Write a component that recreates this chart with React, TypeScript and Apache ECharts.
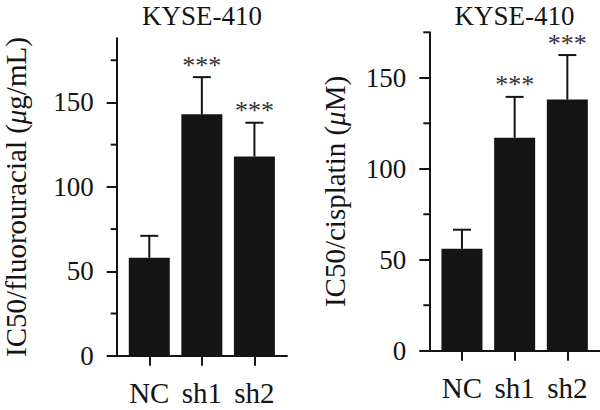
import React, { useEffect, useRef } from "react";
import * as echarts from "echarts";

const FONT = "'Liberation Serif', 'Times New Roman', serif";
const INK = "#141414";

const categories = ["NC", "sh1", "sh2"];
const significance = ["", "***", "***"];

// IC50 for fluorouracil (µg/mL): mean and SD
const fluMeans = [58, 143, 118];
const fluErrors = [13, 22, 20];

// IC50 for cisplatin (µM): mean and SD
const cisMeans = [56, 117, 138];
const cisErrors = [10.5, 22.5, 24.5];

const majorTicks = [0, 50, 100, 150];
const minorTicks = [25, 75, 125, 175];
const catTicks = [0, 1, 2];
const xMin = -0.62;
const xMax = 2.62;

const panelGrids = [
  { left: 116.7, top: 38.3, width: 170.3, height: 317.4 },
  { left: 429.3, top: 32.3, width: 170.7, height: 318.4 },
];
const yMax = [188, 175];

function xAxisFor(gridIndex: number) {
  return {
    type: "value",
    gridIndex,
    min: xMin,
    max: xMax,
    splitLine: { show: false },
    axisLine: { show: true, onZero: false, lineStyle: { color: INK, width: 2 } },
    axisTick: { show: true, customValues: catTicks, length: 10, lineStyle: { color: INK, width: 2 } },
    axisLabel: {
      customValues: catTicks,
      formatter: (v: number) => categories[Math.round(v)] ?? "",
      fontFamily: FONT,
      fontSize: 29,
      color: INK,
      margin: 23,
    },
  };
}

function yAxisMain(gridIndex: number, name: string, nameGap: number) {
  return {
    type: "value",
    gridIndex,
    position: "left",
    min: 0,
    max: yMax[gridIndex],
    splitLine: { show: false },
    axisLine: { show: true, onZero: false, lineStyle: { color: INK, width: 2 } },
    axisTick: { show: true, customValues: majorTicks, length: 10, lineStyle: { color: INK, width: 2 } },
    axisLabel: { customValues: majorTicks, fontFamily: FONT, fontSize: 27, color: INK, margin: 23 },
    name,
    nameLocation: "middle",
    nameRotate: 90,
    nameGap,
    nameTextStyle: {
      fontFamily: FONT,
      fontSize: 29,
      color: INK,
      rich: { i: { fontFamily: FONT, fontSize: 29, fontStyle: "italic", color: INK } },
    },
  };
}

function barSeries(idx: number, means: number[]) {
  return {
    type: "bar",
    xAxisIndex: idx,
    yAxisIndex: idx,
    barWidth: 41,
    itemStyle: { color: INK },
    data: means.map((m, i) => [i, m]),
    z: 2,
  };
}

function errorSeries(idx: number, means: number[], errors: number[]) {
  return {
    type: "custom",
    xAxisIndex: idx,
    yAxisIndex: idx,
    z: 3,
    data: means.map((m, i) => [i, m, errors[i]]),
    renderItem: (params: any, api: any) => {
      const x = api.value(0);
      const mean = api.value(1);
      const err = api.value(2);
      const base = api.coord([x, mean]);
      const top = api.coord([x, mean + err]);
      const children: any[] = [
        {
          type: "line",
          shape: { x1: base[0], y1: base[1], x2: top[0], y2: top[1] },
          style: { stroke: INK, lineWidth: 2 },
        },
        {
          type: "line",
          shape: { x1: top[0] - 9, y1: top[1], x2: top[0] + 9, y2: top[1] },
          style: { stroke: INK, lineWidth: 2 },
        },
      ];
      const mark = significance[params.dataIndex];
      if (mark) {
        children.push({
          type: "text",
          style: {
            text: mark,
            x: top[0],
            y: top[1] + 1,
            align: "center",
            verticalAlign: "bottom",
            font: `26px ${FONT}`,
            fill: "#333",
          },
        });
      }
      return { type: "group", children };
    },
  };
}

// Minor ticks: one item per tick value, each drawn as a short rect hanging
// off the left side of the y axis; bar centre 0 is used as the anchor.
function minorTickSeries(idx: number) {
  return {
    type: "custom",
    xAxisIndex: idx,
    yAxisIndex: idx,
    clip: false,
    silent: true,
    z: 10,
    data: minorTicks.filter((v) => v <= yMax[idx]).map((v) => [0, v]),
    renderItem: (_params: any, api: any) => {
      const p = api.coord([api.value(0), api.value(1)]);
      const axisX = api.coord([xMin, 0])[0];
      return {
        type: "rect",
        shape: { x: axisX - 6, y: p[1] - 1, width: 6, height: 2 },
        style: { fill: INK },
      };
    },
  };
}

const titleText = (x: number) => ({
  type: "text",
  x,
  y: 2,
  style: { text: "KYSE-410", align: "center", verticalAlign: "top", font: `27px ${FONT}`, fill: INK },
});

export default function App() {
  const ref = useRef<HTMLDivElement>(null);

  useEffect(() => {
    if (!ref.current) return;
    const chart = echarts.init(ref.current, undefined, { renderer: "svg" });
    chart.setOption({
      animation: false,
      backgroundColor: "#ffffff",
      grid: panelGrids,
      xAxis: [xAxisFor(0), xAxisFor(1)],
      yAxis: [
        yAxisMain(0, "IC50/fluorouracial ({i|μ}g/mL)", 86),
        yAxisMain(1, "IC50/cisplatin ({i|μ}M)", 80),
      ],
      graphic: [titleText(202), titleText(514.5)],
      series: [
        barSeries(0, fluMeans),
        errorSeries(0, fluMeans, fluErrors),
        minorTickSeries(0),
        barSeries(1, cisMeans),
        errorSeries(1, cisMeans, cisErrors),
        minorTickSeries(1),
      ],
    });
    return () => chart.dispose();
  }, []);

  return <div ref={ref} style={{ width: 600, height: 410, position: "absolute", left: 0, top: 0 }} />;
}
